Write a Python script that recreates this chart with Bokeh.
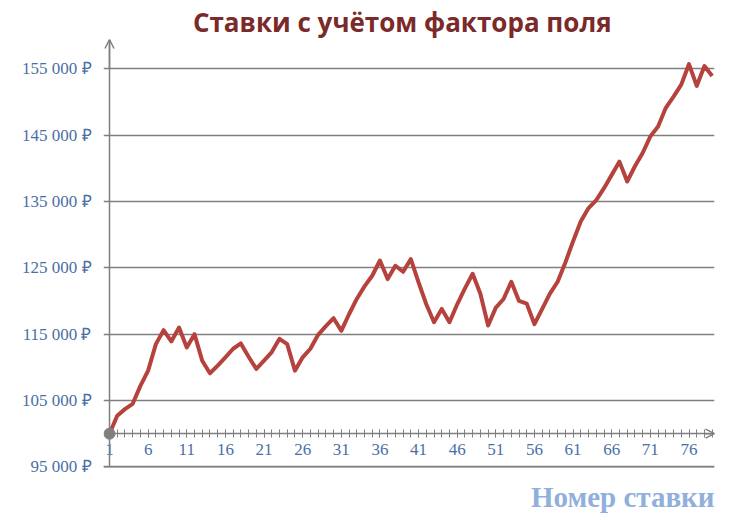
from bokeh.plotting import figure
from bokeh.models import LinearAxis, FixedTicker, Grid, Arrow, OpenHead, Title, Span
from bokeh.embed import file_html
from bokeh.resources import INLINE

# ---- data ----
bets = list(range(1, 80))
balance = [
    100000, 102700, 103700, 104500, 107200, 109500, 113500, 115600, 113900, 116000,
    113000, 115000, 111000, 109100, 110250, 111500, 112800, 113600, 111600, 109750,
    111000, 112300, 114300, 113500, 109500, 111500, 112800, 114900, 116200, 117400,
    115500, 118000, 120300, 122200, 123800, 126100, 123300, 125300, 124400, 126300,
    122800, 119500, 116800, 118800, 116800, 119500, 121900, 124100, 121100, 116300,
    119000, 120300, 122900, 120000, 119600, 116500, 118800, 121100, 122900, 125800,
    129000, 132000, 134000, 135200, 137000, 139000, 141000, 138000, 140300, 142300,
    144800, 146300, 149100, 150800, 152600, 155700, 152400, 155400, 153900,
]
y_ticks = [95000, 105000, 115000, 125000, 135000, 145000, 155000]
y_tick_labels = ["95 000 ₽", "105 000 ₽", "115 000 ₽", "125 000 ₽",
                 "135 000 ₽", "145 000 ₽", "155 000 ₽"]
x_label_ticks = list(range(1, 80, 5))
title_text = "Ставки  с учётом фактора  поля"
x_axis_title = "Номер ставки"

AXIS_GRAY = "#7f7f7f"
TICK_BLUE = "#4a6fa5"
X_END = 79.3
Y_START = 94000
Y_END = 159400

p = figure(width=722, height=518, x_range=(0.224, X_END), y_range=(Y_START, Y_END),
           output_backend="svg", toolbar_location=None,
           x_axis_location=None, y_axis_location=None,
           min_border_left=103, min_border_right=8, min_border_top=39,
           min_border_bottom=45)
p.outline_line_color = None
p.background_fill_color = "white"
# drop default grids
p.center = [r for r in p.center if not isinstance(r, Grid)]

# title
p.title.text = title_text
p.title.align = "center"
p.title.offset = -21
p.title.text_font = "Open Sans"
p.title.text_font_style = "bold"
p.title.text_font_size = "26px"
p.title.text_color = "#7b2a2a"
p.title.standoff = 0

yticker = FixedTicker(ticks=y_ticks)

# y tick labels (left panel, no line)
ylabels = LinearAxis(ticker=yticker)
ylabels.major_label_overrides = {t: l for t, l in zip(y_ticks, y_tick_labels)}
ylabels.axis_line_color = None
ylabels.major_tick_line_color = None
ylabels.minor_tick_line_color = None
ylabels.major_tick_out = 0
ylabels.major_tick_in = 0
ylabels.major_label_standoff = 12
ylabels.major_label_text_font = "Liberation Serif"
ylabels.major_label_text_font_size = "17px"
ylabels.major_label_text_color = TICK_BLUE
p.add_layout(ylabels, "left")

# y axis line at the first bet
yaxis = LinearAxis(ticker=yticker, fixed_location=bets[0], bounds=(y_ticks[0], Y_END))
yaxis.axis_line_color = AXIS_GRAY
yaxis.axis_line_width = 1.5
yaxis.major_tick_line_color = None
yaxis.minor_tick_line_color = None
yaxis.major_label_text_color = None
p.add_layout(yaxis, "left")

grid = Grid(dimension=1, ticker=yticker, bounds=(Y_START, Y_END),
            grid_line_color=AXIS_GRAY, grid_line_width=1.5)
p.add_layout(grid)
# lowest gridline
p.add_layout(Span(location=y_ticks[0], dimension="width",
                  line_color=AXIS_GRAY, line_width=1.5))

# x axis crossing at the starting balance
xticker = FixedTicker(ticks=x_label_ticks, minor_ticks=bets)
xaxis = LinearAxis(ticker=xticker, fixed_location=balance[0], bounds=(bets[0], X_END))
xaxis.axis_line_color = AXIS_GRAY
xaxis.axis_line_width = 1.5
xaxis.major_tick_line_color = AXIS_GRAY
xaxis.minor_tick_line_color = AXIS_GRAY
xaxis.major_tick_in = 4
xaxis.major_tick_out = 4
xaxis.minor_tick_in = 4
xaxis.minor_tick_out = 4
xaxis.major_label_standoff = 6
xaxis.major_label_text_font = "Liberation Serif"
xaxis.major_label_text_font_size = "17px"
xaxis.major_label_text_color = TICK_BLUE
p.add_layout(xaxis, "below")

# axis arrows
p.add_layout(Arrow(end=OpenHead(size=9, line_color=AXIS_GRAY, line_width=1.5),
                   line_color=AXIS_GRAY, line_width=1.5,
                   x_start=bets[0], y_start=y_ticks[-1], x_end=bets[0], y_end=Y_END))
p.add_layout(Arrow(end=OpenHead(size=9, line_color=AXIS_GRAY, line_width=1.5),
                   line_color=AXIS_GRAY, line_width=1.5,
                   x_start=bets[-1] - 1, y_start=balance[0], x_end=X_END, y_end=balance[0]))

# data line
p.line(bets, balance, line_color="#b5423d", line_width=4, line_join="round")
p.scatter([bets[0]], [balance[0]], size=11, fill_color="#808080", line_color="#808080")

# x axis title
p.add_layout(Title(text=x_axis_title, align="right", text_font="Liberation Serif",
                   text_font_style="bold", text_font_size="29px",
                   text_color="#8fb0dc", standoff=11), "below")

open("out.html", "w").write(file_html(p, INLINE))
